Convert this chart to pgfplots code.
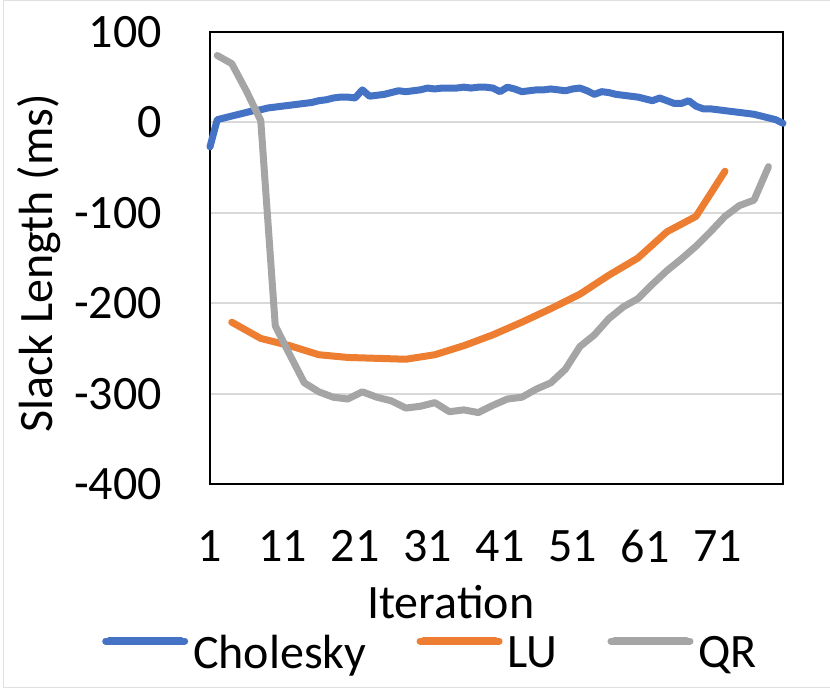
\documentclass[border=0pt]{standalone}
\usepackage{pgfplots}
\pgfplotsset{compat=1.18}
\usepackage{fontspec}
\setmainfont{Carlito}
\usetikzlibrary{calc}
\definecolor{exblue}{HTML}{4472C4}
\definecolor{exorange}{HTML}{ED7D31}
\definecolor{exgray}{HTML}{A5A5A5}
\definecolor{gridgray}{HTML}{D9D9D9}
\newcommand\bigf{\fontsize{48bp}{57bp}\selectfont}
\begin{document}
\begin{tikzpicture}
\path[use as bounding box] (-210bp,-209bp) rectangle (620bp,484bp);
\draw[black!12, line width=1bp] (621bp,483.5bp) -- (-206bp,483.5bp) -- (-206bp,-203bp) -- (621bp,-203bp);
\begin{axis}[
  scale only axis,
  width=573bp, height=452bp,
  xmin=1, xmax=80, ymin=-400, ymax=100,
  xtick={1,11,21,31,41,51,61,71},
  xticklabels={1,11,21,31,41,51,61,71},
  ytick={-400,-300,-200,-100,0,100},
  yticklabels={-400,-300,-200,-100,0,100},
  major tick length=0pt,
  tick style={draw=none},
  axis line style={black, line width=2.5bp},
  ymajorgrids,
  grid style={gridgray, line width=2bp},
  ticklabel style={font=\bigf, inner sep=0pt},
  yticklabel style={anchor=east, xshift=-48bp},
  xticklabel style={anchor=north, yshift=-46bp},
  xlabel={Iteration},
  ylabel={Slack Length (ms)},
  xlabel style={font=\bigf, inner sep=0pt, at={($(axis description cs:0.42,0)+(0,-134bp)$)}, anchor=base},
  ylabel style={font=\bigf, inner sep=0pt, at={($(axis description cs:0,0.488)+(-157bp,0)$)}, anchor=base, rotate=0},
  legend columns=3,
  legend style={draw=none, fill=none, inner sep=0pt, font=\bigf,
    at={(axis description cs:0,0)}, anchor=west, xshift=-108bp, yshift=-169bp,
    nodes={inner sep=0pt},
    column sep=5bp,
    /tikz/every even column/.append style={column sep=50bp}},
  legend cell align=left,
  legend image code/.code={
    \path (0bp,12bp) -- (79bp,12bp);
    \draw[#1, line width=7.5bp, line cap=round] (3.5bp,12bp) -- (75.5bp,12bp);
  },
  every axis plot/.append style={line width=7bp, line join=round, line cap=round},
  clip=false,
]
\addplot[exblue] coordinates {
(1,-27)(2,3)(3,5)(4,7)(5,9)(6,11)(7,13)(8,14)(9,16)(10,17)
(11,18)(12,19)(13,20)(14,21)(15,22)(16,24)(17,25)(18,27)(19,28)(20,28)
(21,27)(22,36)(23,29)(24,30)(25,31)(26,33)(27,35)(28,34)(29,35)(30,36)
(31,38)(32,37)(33,38)(34,38)(35,38)(36,39)(37,38)(38,39)(39,39)(40,38)
(41,34)(42,39)(43,37)(44,34)(45,35)(46,36)(47,36)(48,37)(49,36)(50,35)
(51,37)(52,38)(53,35)(54,31)(55,34)(56,33)(57,31)(58,30)(59,29)(60,28)
(61,26)(62,24)(63,27)(64,24)(65,21)(66,21)(67,24)(68,18)(69,15)(70,15)
(71,14)(72,13)(73,12)(74,11)(75,10)(76,9)(77,7)(78,5)(79,3)(80,-1)
};
\addlegendentry{Cholesky}
\addplot[exorange] coordinates {
(4,-221)(8,-239)(12,-247)(16,-257)(20,-260)(24,-261)(28,-262)(32,-257)
(36,-247)(40,-235)(44,-221)(48,-206)(52,-190)(56,-169)(60,-150)(64,-121)
(68,-104)(72,-54)
};
\addlegendentry{LU}
\addplot[exgray] coordinates {
(2,74)(4,65)(6,35)(8,2)(10,-225)(12,-257)(14,-288)(16,-298)(18,-304)(20,-306)
(22,-298)(24,-304)(26,-308)(28,-316)(30,-314)(32,-310)(34,-320)(36,-318)(38,-321)(40,-313)
(42,-306)(44,-304)(46,-295)(48,-288)(50,-273)(52,-248)(54,-235)(56,-217)(58,-204)(60,-195)
(62,-179)(64,-164)(66,-151)(68,-137)(70,-121)(72,-104)(74,-92)(76,-86)(78,-49)
};
\addlegendentry{QR}
\end{axis}
\end{tikzpicture}
\end{document}
